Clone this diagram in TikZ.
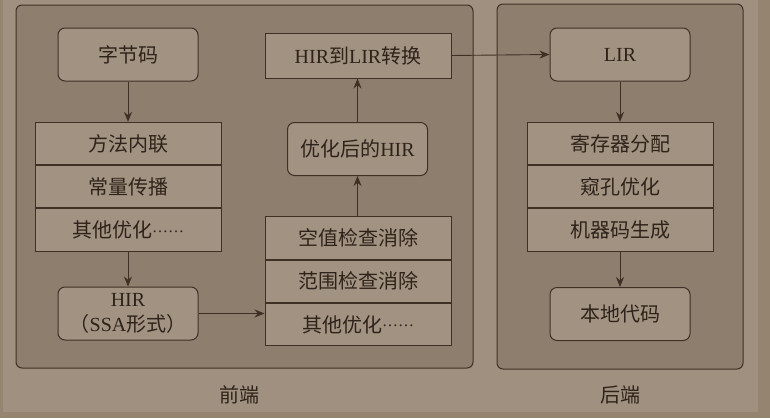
\documentclass[tikz,border=0pt]{standalone}
\usepackage{fontspec}
\setmainfont{Liberation Serif}
\newfontfamily\cjk{Noto Sans CJK SC}
\usetikzlibrary{arrows.meta}
\definecolor{bgc}{RGB}{160,144,127}
\definecolor{stripc}{RGB}{148,132,112}
\definecolor{panelc}{RGB}{142,126,109}
\definecolor{boxc}{RGB}{162,146,129}
\definecolor{linec}{RGB}{62,48,36}
\definecolor{txtc}{RGB}{46,35,26}
\newcommand{\middots}{\raisebox{5.5pt}{\fontsize{16}{16}\selectfont……}}
\tikzset{
  panel/.style={draw=linec, line width=1pt, fill=panelc, rounded corners=6pt},
  rbox/.style={draw=linec, line width=1pt, fill=boxc, rounded corners=7pt, minimum width=140pt, minimum height=53pt, align=center, text=txtc, font=\fontsize{20}{24}\selectfont, inner sep=0pt},
  sbox/.style={draw=linec, line width=1pt, fill=boxc, minimum width=186pt, minimum height=42.3pt, text=txtc, font=\fontsize{20}{24}\selectfont, inner sep=0pt},
  tbox/.style={draw=linec, line width=1pt, fill=boxc, minimum width=186pt, minimum height=45pt, text=txtc, font=\fontsize{20}{24}\selectfont, inner sep=0pt},
  arr/.style={draw=linec, line width=0.9pt, -{Stealth[length=10pt,width=8pt]}},
  lbl/.style={text=txtc, font=\fontsize{20}{24}\selectfont},
}
\begin{document}
\begin{tikzpicture}[x=1pt,y=-1pt]
\useasboundingbox (0,0) rectangle (770,418);
\fill[stripc] (0,0) rectangle (770,418);
\fill[bgc] (3,0) rectangle (758,412);
% panels
\draw[panel] (16,5) rectangle (473,368);
\draw[panel] (497,4) rectangle (743,369);
\node[lbl] (fe) at (239,395) {\cjk 前端};
\node[lbl] (be) at (620,395) {\cjk 后端};
% front end, left column
\node[rbox] (bc) at (128,54.5) {\cjk 字节码};
\node[sbox] (s1a) at (128,143.5) {\cjk 方法内联};
\node[sbox, anchor=north] (s1b) at (s1a.south) {\cjk 常量传播};
\node[sbox, anchor=north] (s1c) at (s1b.south) {{\cjk 其他优化}\middots};
\node[rbox, font=\fontsize{20}{25}\selectfont] (hir) at (128,313.5) {HIR\\{\cjk （}SSA{\cjk 形式）}};
% front end, right column
\node[sbox] (s2a) at (358,238) {\cjk 空值检查消除};
\node[sbox, anchor=north] (s2b) at (s2a.south) {\cjk 范围检查消除};
\node[sbox, anchor=north] (s2c) at (s2b.south) {{\cjk 其他优化}\middots};
\node[rbox] (ohir) at (357.5,149) {{\cjk 优化后的}HIR};
\node[tbox] (conv) at (358,55.5) {HIR{\cjk 到}LIR{\cjk 转换}};
% back end
\node[rbox] (lir) at (620,54.5) {LIR};
\node[sbox] (s3a) at (620,143.5) {\cjk 寄存器分配};
\node[sbox, anchor=north] (s3b) at (s3a.south) {\cjk 窥孔优化};
\node[sbox, anchor=north] (s3c) at (s3b.south) {\cjk 机器码生成};
\node[rbox] (nat) at (620,314) {\cjk 本地代码};
% arrows
\draw[arr] (bc) -- (s1a);
\draw[arr] (s1c) -- (hir);
\draw[arr] (hir.east) -- (hir.east -| s2c.west);
\draw[arr] (s2a.north -| ohir.south) -- (ohir.south);
\draw[arr] (ohir) -- (ohir.north |- conv.south);
\draw[arr] (conv.east) -- (lir.west);
\draw[arr] (lir) -- (s3a);
\draw[arr] (s3c) -- (nat);
\end{tikzpicture}
\end{document}
